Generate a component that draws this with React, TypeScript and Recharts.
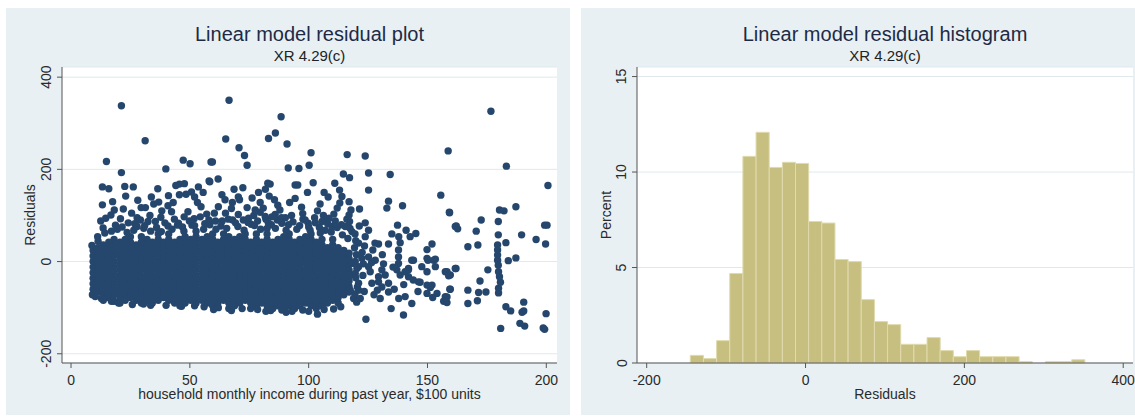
import React from "react";
import {
    ScatterChart,
    Scatter,
    ComposedChart,
    Line,
    ReferenceArea,
    XAxis,
    YAxis,
    CartesianGrid,
} from "recharts";

// residuals vs income: the dense body of the cloud, one list of residuals per income column
const denseIncome = [
    9.3, 11.4, 13.6, 15.9, 18.1, 20.6, 22.8, 25.0, 27.4, 29.6, 32.0, 34.2,
    36.7, 38.9, 41.1, 43.6, 45.8, 48.0, 50.4, 52.6, 55.1, 57.3, 59.6, 61.8,
    64.2, 66.4, 68.8, 71.0, 73.3, 75.6, 78.0, 80.2, 82.5, 84.9, 87.1, 89.5,
    91.8, 94.1, 96.3, 98.7, 101.0, 103.2, 105.6, 107.9, 110.1, 112.4, 114.8, 117.0,
];

const denseResiduals = [
    [-60, -48, -36, -24, -12, 0, 12, 24],
    [-66, -54, -42, -30, -18, -6, 6, 18, 30, 44],
    [-84, -72, -60, -47, -36, -24, -12, 0, 12, 24, 36],
    [-78, -66, -54, -42, -30, -18, -6, 6, 18, 30, 42],
    [-86, -72, -60, -48, -36, -24, -12, 0, 13, 24, 36, 48],
    [-90, -78, -66, -54, -42, -30, -18, -6, 6, 18, 30, 42],
    [-84, -72, -60, -48, -36, -24, -11, 0, 12, 24, 36, 48],
    [-78, -66, -54, -42, -30, -18, -6, 6, 18, 30, 42, 54],
    [-84, -72, -60, -48, -36, -24, -12, 0, 12, 24, 36],
    [-90, -78, -66, -54, -42, -31, -18, -6, 6, 18, 30, 42, 54],
    [-84, -72, -60, -48, -36, -24, -12, 0, 12, 24, 37, 48],
    [-90, -78, -66, -54, -42, -30, -18, -6, 6, 18, 30, 42],
    [-84, -72, -60, -48, -36, -24, -12, 0, 12, 24, 36, 48, 60],
    [-78, -66, -54, -42, -30, -18, -6, 7, 18, 30, 42],
    [-84, -72, -60, -48, -36, -24, -12, 0, 12, 24, 36, 48, 60],
    [-90, -78, -66, -54, -42, -30, -18, -6, 6, 18, 30, 42],
    [-96, -84, -72, -60, -48, -35, -24, -12, 0, 12, 24, 36, 48],
    [-90, -78, -66, -54, -42, -30, -18, -6, 6, 18, 30, 42, 54],
    [-84, -72, -60, -48, -36, -24, -12, 0, 12, 25, 36, 48],
    [-90, -78, -66, -54, -42, -30, -18, -6, 6, 18, 30, 42, 54, 66],
    [-84, -72, -60, -48, -36, -24, -12, 0, 12, 24, 36, 48],
    [-90, -78, -66, -53, -42, -30, -18, -6, 6, 18, 30, 42, 54],
    [-96, -84, -72, -60, -48, -36, -24, -12, 0, 12, 24, 36, 48, 60],
    [-90, -78, -66, -54, -42, -30, -18, -6, 6, 18, 30, 42],
    [-84, -72, -60, -48, -36, -24, -12, 1, 12, 24, 36, 48, 60],
    [-102, -90, -78, -66, -54, -42, -30, -18, -6, 6, 18, 30, 42, 54],
    [-96, -84, -72, -60, -48, -36, -24, -12, 0, 12, 24, 36, 48],
    [-90, -78, -66, -54, -42, -30, -18, -6, 6, 19, 30, 42, 54],
    [-84, -72, -60, -48, -36, -24, -12, 0, 12, 24, 36, 48, 60],
    [-102, -90, -78, -66, -54, -42, -30, -18, -6, 6, 18, 30, 42],
    [-96, -84, -72, -60, -48, -36, -24, -12, 0, 12, 24, 36, 48, 60],
    [-90, -78, -66, -54, -42, -30, -17, -6, 6, 18, 30, 42],
    [-96, -84, -72, -60, -48, -36, -24, -12, 0, 12, 24, 36, 48, 60, 72],
    [-102, -90, -78, -66, -54, -42, -30, -18, -6, 6, 18, 30, 42],
    [-96, -84, -72, -60, -48, -36, -24, -12, 0, 12, 24, 36, 48],
    [-102, -90, -78, -66, -54, -42, -30, -18, -6, 6, 18, 30, 42, 54],
    [-96, -84, -72, -60, -47, -36, -24, -12, 0, 12, 24, 36, 48, 60],
    [-102, -90, -78, -66, -54, -42, -30, -18, -6, 6, 18, 30, 42],
    [-96, -84, -72, -60, -48, -36, -24, -12, 0, 12, 24, 36, 48],
    [-90, -78, -66, -54, -42, -30, -18, -5, 6, 18, 30, 42, 54],
    [-96, -84, -72, -60, -48, -36, -24, -12, 0, 12, 24, 36, 48, 60],
    [-102, -90, -78, -66, -54, -42, -30, -18, -6, 6, 18, 30, 42],
    [-96, -84, -72, -60, -48, -36, -24, -12, 0, 12, 24, 36, 48],
    [-90, -78, -66, -54, -42, -30, -18, -6, 6, 18, 30],
    [-84, -72, -60, -48, -36, -24, -12, 0, 12, 24, 36, 48],
    [-90, -78, -66, -54, -42, -30, -18, -6, 6, 18, 30],
    [-72, -60, -48, -36, -24, -12, 0, 12, 24],
    [-66, -54, -42, -30, -18, -6, 6, 18],
];

// [income, residual] for the thinner parts of the cloud and the outliers
const sparsePoints: [number, number][] = [
    [21.2, 338], [31.2, 262], [14.9, 217], [21.2, 193], [39.9, 201], [47.2, 220], [50.1, 212], [58.9, 216],
    [13.2, 162], [15.9, 158], [22.6, 163], [26.2, 162], [23.0, 142], [36.5, 158], [41.0, 143], [40.8, 121],
    [44.1, 165], [45.6, 168], [47.7, 169], [45.6, 145], [48.4, 146], [50.7, 151], [53.6, 162], [58.1, 175],
    [13.2, 123], [18.2, 112], [22.0, 114], [29.5, 117], [31.3, 117], [34.8, 125], [36.9, 129],
    [14.6, 94], [20.8, 93], [27.8, 95], [47.6, 97], [54.7, 119],
    [13.5, 73], [18.7, 79], [26.4, 68], [32.4, 87], [35.5, 87], [40.8, 77], [45.2, 83], [50.9, 79],
    [54.4, 97], [58.0, 90], [29.2, 90], [27.8, 76], [11.2, 54], [9.0, -72], [8.8, 35],
    [12.5, 88], [16.8, 101], [19.5, 70], [24.1, 84], [25.5, 105], [30.6, 72], [33.2, 100], [37.8, 96],
    [39.5, 84], [42.3, 108], [43.5, 92], [46.9, 75], [49.2, 108], [51.8, 93], [53.2, 128], [56.3, 82],
    [57.1, 103], [60.8, 88], [63.1, 77], [66.2, 92], [67.5, 115], [69.2, 84], [72.5, 90], [75.8, 81],
    [76.9, 100], [78.5, 88], [80.9, 116], [83.0, 84], [86.8, 90], [87.9, 112], [91.5, 80], [92.8, 100],
    [96.2, 78], [97.5, 104], [99.8, 83], [102.5, 95], [104.5, 74], [106.2, 100], [108.0, 82], [111.2, 88],
    [113.8, 80], [116.1, 92],
    [14.2, 62], [17.0, 66], [21.5, 75], [23.6, 63], [26.8, 82], [31.0, 78], [33.5, 66], [36.0, 74],
    [38.0, 65], [42.5, 70], [44.8, 79], [47.5, 66], [49.8, 88], [52.0, 78], [55.8, 70], [58.4, 80],
    [61.0, 70], [63.6, 88], [65.5, 72], [68.0, 90], [70.2, 76], [72.8, 68], [74.5, 85], [77.2, 78],
    [79.8, 70], [82.0, 92], [84.3, 80], [86.0, 72], [88.6, 95], [90.5, 68], [93.4, 86], [95.0, 70],
    [97.6, 92], [100.0, 75], [102.8, 84], [104.9, 62], [107.4, 92], [109.5, 64], [112.0, 74], [114.2, 58],
    [116.5, 50],
    [17.5, 130], [28.1, 133], [33.8, 140], [38.2, 110], [43.0, 128], [52.0, 140], [55.6, 150], [63.5, 145],
    [67.9, 128], [76.2, 138], [78.9, 150], [87.0, 122], [92.0, 128], [97.0, 118], [104.8, 125], [108.2, 140],
    [111.0, 170], [114.6, 190], [106.5, 150], [99.5, 150],
    [66.5, 350], [88.4, 314], [65.1, 266], [83.1, 267], [86.0, 279], [70.7, 247], [73.0, 230], [74.1, 209],
    [90.9, 255], [59.5, 216], [91.4, 203], [95.9, 202], [101.0, 236], [100.2, 209], [116.2, 232], [117.2, 182],
    [58.4, 173], [61.9, 179], [68.6, 157], [72.3, 160], [82.8, 170], [83.8, 168], [94.3, 166], [95.4, 166], [101.9, 171],
    [70.4, 140], [70.9, 134], [81.8, 157], [83.4, 142], [85.6, 134], [94.3, 137], [79.6, 128], [74.1, 117],
    [90.2, 95], [103.7, 110],
    [113.0, 155], [114.0, 141], [113.1, 127], [112.0, 116], [110.6, 103], [108.6, 94], [117.0, 130], [117.8, 112],
    [60.3, 105], [65.0, 105], [70.4, 102], [74.7, 94], [79.6, 107], [81.7, 98], [85.9, 102],
    [62.0, 119], [64.8, 134], [77.5, 112], [84.5, 97], [88.7, 83], [98.5, 90], [100.6, 68], [105.6, 87],
    [107.0, 68], [109.8, 76], [115.4, 76], [118.2, 65],
    [103.7, -114], [88.7, -105], [97.5, -105], [33.5, -95], [56.0, -98], [78.5, -104], [93.0, -108],
    [110.5, -103], [17.0, -86], [62.0, -100], [84.0, -106], [10.2, -76],
    [12.8, -80], [20.0, -90], [25.8, -93], [30.5, -92], [40.0, -95], [46.5, -97], [52.0, -96], [60.0, -104],
    [67.5, -106], [72.0, -102], [82.0, -108], [90.5, -110], [100.0, -108], [106.5, -104], [113.5, -98],
    [158.7, 240], [123.8, 229], [125.2, 192], [134.3, 189], [125.2, 155], [155.6, 144], [159.2, 107], [161.7, 76],
    [133.6, 131], [132.9, 116], [139.5, 121], [121.4, 114],
    [117.0, 101], [117.2, 87], [117.4, 72], [123.8, 84], [121.3, 77], [125.2, 68], [137.4, 79],
    [141.0, 68], [145.1, 61], [142.7, 54], [135.0, 60], [137.9, 54], [138.5, 41], [133.6, 38], [129.4, 38],
    [127.9, 40], [123.8, 54], [121.0, 40], [123.5, 34],
    [151.9, 38], [149.8, 26], [153.3, 5], [150.2, 3], [137.8, 25], [137.8, 10], [137.8, -4], [144.1, 3],
    [147.6, -11], [149.8, -22], [142.0, -18], [142.0, -33], [138.5, -29],
    [157.5, -22], [159.6, -29], [161.7, -15],
    [146.9, -45], [151.2, -56], [154.0, -69], [157.5, -76], [159.6, -60], [149.8, -69], [152.2, -78], [156.8, -86],
    [146.2, -44], [149.8, -51], [151.9, -51], [149.8, 7], [152.6, 3], [153.3, -11],
    [143.4, 3], [142.0, -15], [140.6, -22], [137.1, -18],
    [143.4, -91], [139.9, -116], [124.1, -125], [134.7, -102], [140.6, -76], [137.9, -80], [130.1, -80],
    [128.9, -62], [121.0, -62], [117.5, -62], [118.9, -80], [121.7, -80], [133.6, -66],
    [125.2, 10], [128.0, 3], [130.8, -18], [125.9, -22], [129.4, -33], [132.2, -29], [133.6, -47], [126.6, -47],
    [130.8, -55], [129.4, -44], [118.2, -4], [121.0, -11], [117.5, -29], [121.0, -47], [116.0, -44], [119.6, -26],
    [122.4, 7], [125.2, -11],
    [119.5, 60], [119.8, 45], [119.3, 30], [120.1, 15], [119.6, 0], [120.3, -15], [119.8, -35], [120.5, -55],
    [119.5, -70], [120.2, -88], [122.5, 20], [123.0, -5], [122.8, -30], [123.4, -65], [126.5, -2], [127.0, 25],
    [127.5, -72], [131.0, 15], [131.5, -5], [135.5, -12], [136.0, -60], [140.0, -50], [144.0, -40], [146.0, -65],
    [176.7, 326], [183.2, 207], [200.7, 165], [180.3, 112], [182.2, 110], [187.2, 119], [179.8, 87], [172.6, 90],
    [170.5, 66], [162.1, 77], [162.7, 71], [159.3, 106], [179.8, 58], [189.6, 58], [195.7, 48], [199.3, 79],
    [200.3, 79], [199.7, 38], [167.0, 32], [171.2, 36], [183.0, 41],
    [179.5, 36], [179.5, 25], [179.5, 14], [179.5, 3], [179.8, -8], [184.0, 2], [187.2, 8], [179.9, -22],
    [180.3, -33], [180.7, -45], [175.4, -18], [162.0, -15], [158.2, -22], [158.9, -31], [172.1, -42],
    [179.9, -58], [179.9, -68], [159.4, -60], [158.2, -77], [158.2, -89], [167.0, -62], [167.0, -91],
    [171.5, -67], [174.6, -66], [171.0, -85], [190.5, -88], [190.5, -107], [189.8, -110], [183.0, -98],
    [185.0, -107], [199.9, -113], [188.9, -134], [190.9, -140], [180.8, -145], [198.7, -144], [199.3, -147],
];

// histogram of the residuals: equal-width bins, height in percent
const BIN_START = -145.1;
const BIN_WIDTH = 16.56;
const binPercent = [
    0.4, 0.23, 1.17, 4.69, 10.82, 12.08, 10.24, 10.51, 10.45, 7.41,
    7.33, 5.42, 5.31, 3.32, 2.17, 2.01, 0.98, 0.98, 1.33, 0.65,
    0.33, 0.65, 0.33, 0.33, 0.33, 0.07, 0, 0.07, 0.07, 0.17,
];

const scatterXTicks = [0, 50, 100, 150, 200];
const scatterYTicks = [-200, 0, 200, 400];
const histXTicks = [-200, 0, 200, 400];
const histYTicks = [0, 5, 10, 15];

const FONT = '"Liberation Sans", Arial, Helvetica, sans-serif';
const BG = "#e8f0f3";
const GRID = "#dfe9ec";
const NAVY = "#26476d";
const KHAKI = "#c7bf80";
const AXIS = "#555";
const TEXT = "#2a2a2a";

const scatterData = [
    ...denseIncome.flatMap((x, i) => denseResiduals[i].map((y) => ({ x, y }))),
    ...sparsePoints.map(([x, y]) => ({ x, y })),
];

const histRows = binPercent.map((pct, i) => {
    const lo = BIN_START + i * BIN_WIDTH;
    return { lo, hi: lo + BIN_WIDTH, mid: lo + BIN_WIDTH / 2, pct };
});

const XTick = (props: any) => {
    const { x, y, payload } = props;
    return (
        <text x={x} y={y} textAnchor="middle" dominantBaseline="central" fill={TEXT} fontSize={14} fontFamily={FONT}>
            {payload.value}
        </text>
    );
};

// stata-style vertical tick labels
const YTick = (props: any) => {
    const { x, y, payload } = props;
    return (
        <text
            x={x}
            y={y}
            textAnchor="middle"
            dominantBaseline="central"
            fill={TEXT}
            fontSize={14}
            fontFamily={FONT}
            transform={`rotate(-90, ${x}, ${y})`}
        >
            {payload.value}
        </text>
    );
};

const Titles = ({ left, width, title }: { left: number; width: number; title: string }) => (
    <>
        <div style={{
            position: "absolute", left, width, top: 23, height: 22, lineHeight: "22px",
            textAlign: "center", fontSize: 20, color: "#1e2a45", fontFamily: FONT,
        }}>
            {title}
        </div>
        <div style={{
            position: "absolute", left, width, top: 48, height: 16, lineHeight: "16px",
            textAlign: "center", fontSize: 15, color: "#222", fontFamily: FONT,
        }}>
            XR 4.29(c)
        </div>
    </>
);

const XTitle = ({ left, width, text }: { left: number; width: number; text: string }) => (
    <div style={{
        position: "absolute", left, width, top: 386, height: 16, lineHeight: "16px",
        textAlign: "center", fontSize: 14, color: TEXT, fontFamily: FONT, whiteSpace: "nowrap",
    }}>
        {text}
    </div>
);

const YTitle = ({ cx, cy, text }: { cx: number; cy: number; text: string }) => (
    <div style={{
        position: "absolute", left: cx - 100, top: cy - 8, width: 200, height: 16, lineHeight: "16px",
        textAlign: "center", fontSize: 14, color: TEXT, fontFamily: FONT, transform: "rotate(-90deg)",
    }}>
        {text}
    </div>
);

export default function App() {
    return (
        <div style={{ position: "absolute", left: 0, top: 0, width: 1135, height: 417, background: "#fff", overflow: "hidden" }}>
            {/* residual plot */}
            <div style={{ position: "absolute", left: 6, top: 8, width: 564, height: 407, background: BG }}>
                <ScatterChart width={564} height={407} margin={{ top: 59, right: 13, bottom: 0, left: 0 }}>
                    <CartesianGrid horizontal vertical={false} stroke={GRID} fill="#fff" />
                    <XAxis
                        type="number"
                        dataKey="x"
                        domain={[-3.8, 204.5]}
                        ticks={scatterXTicks}
                        allowDataOverflow
                        interval={0}
                        height={52}
                        tickSize={5}
                        tickMargin={12}
                        stroke={AXIS}
                        tick={<XTick />}
                    />
                    <YAxis
                        type="number"
                        dataKey="y"
                        domain={[-220, 422]}
                        ticks={scatterYTicks}
                        allowDataOverflow
                        interval={0}
                        width={56}
                        tickSize={5}
                        tickMargin={10.5}
                        stroke={AXIS}
                        tick={<YTick />}
                    />
                    <Scatter
                        data={scatterData}
                        isAnimationActive={false}
                        shape={(p: any) => <circle cx={p.cx} cy={p.cy} r={3.7} fill={NAVY} />}
                    />
                </ScatterChart>
            </div>
            <Titles left={62} width={495} title="Linear model residual plot" />
            <XTitle left={62} width={495} text="household monthly income during past year, $100 units" />
            <YTitle cx={30} cy={215} text="Residuals" />

            {/* residual histogram */}
            <div style={{ position: "absolute", left: 581, top: 8, width: 554, height: 407, background: BG }}>
                <ComposedChart width={554} height={407} data={histRows} margin={{ top: 59, right: 2, bottom: 0, left: 0 }}>
                    <CartesianGrid horizontal vertical={false} stroke={GRID} fill="#fff" />
                    <XAxis
                        type="number"
                        dataKey="mid"
                        domain={[-212.2, 412.3]}
                        ticks={histXTicks}
                        allowDataOverflow
                        interval={0}
                        height={52}
                        tickSize={5}
                        tickMargin={12}
                        stroke={AXIS}
                        tick={<XTick />}
                    />
                    <YAxis
                        type="number"
                        domain={[0, 15.5]}
                        ticks={histYTicks}
                        allowDataOverflow
                        interval={0}
                        width={56}
                        tickSize={5}
                        tickMargin={10.5}
                        stroke={AXIS}
                        tick={<YTick />}
                    />
                    {histRows.map((b, i) => (
                        <ReferenceArea
                            key={i}
                            x1={b.lo}
                            x2={b.hi}
                            y1={0}
                            y2={b.pct}
                            fill={KHAKI}
                            fillOpacity={1}
                            stroke="#e0daae"
                            strokeWidth={1}
                        />
                    ))}
                    <Line dataKey="pct" stroke="none" dot={false} activeDot={false} isAnimationActive={false} />
                </ComposedChart>
            </div>
            <Titles left={637} width={496} title="Linear model residual histogram" />
            <XTitle left={637} width={496} text="Residuals" />
            <YTitle cx={606} cy={215} text="Percent" />
        </div>
    );
}
